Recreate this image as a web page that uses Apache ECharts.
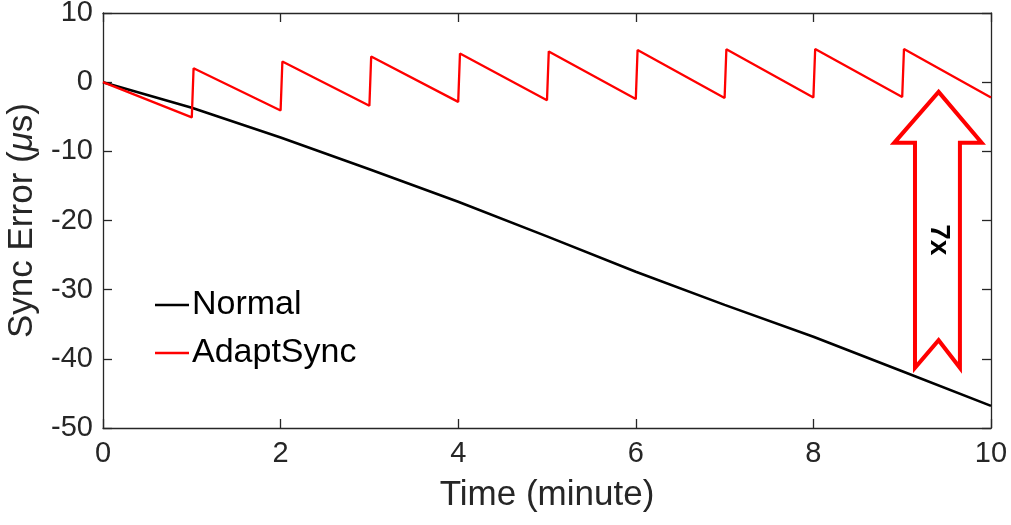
<!DOCTYPE html>
<html>
<head>
<meta charset="utf-8">
<script src="https://cdn.jsdelivr.net/npm/echarts@6/dist/echarts.min.js"></script>
<style>html,body{margin:0;padding:0;background:#fff}#c{width:1011px;height:525px}</style>
</head>
<body>
<div id="c"></div>
<script>
// ---- data ----
const xTicks = [0, 2, 4, 6, 8, 10];
const yTicks = [-50, -40, -30, -20, -10, 0, 10];
const normalT = [0, 1, 2, 3, 4, 5, 6, 7, 8, 9, 10];
const normalV = [0, -3.7, -8.0, -12.6, -17.3, -22.3, -27.4, -32.2, -36.8, -41.8, -46.8];
const adaptT = [0, 1, 1.02, 2, 2.02, 3, 3.02, 4, 4.02, 5, 5.02, 6, 6.02, 7, 7.02, 8, 8.02, 9, 9.02, 10];
const adaptV = [0, -5.1, 2.0, -4.1, 3.0, -3.4, 3.7, -2.85, 4.15, -2.6, 4.45, -2.45, 4.65, -2.3, 4.75, -2.2, 4.8, -2.15, 4.8, -2.2];
const seriesNames = ['Normal', 'AdaptSync'];
const annotationText = '7x';
// arrow outline in data coordinates (annotation)
const arrowPts = [[9.41, -1.4], [9.895, -8.77], [9.65, -8.77], [9.65, -41.3], [9.41, -37.3], [9.144, -41.3], [9.144, -8.77], [8.91, -8.77]];
const arrowTextPos = [9.41, -22.8];

const FONT = 'Liberation Sans, Arial, sans-serif';
const AX = '#262626';

const chart = echarts.init(document.getElementById('c'), null, {renderer: 'canvas'});
const lineSt = {show: true, onZero: false, lineStyle: {color: AX, width: 1.3}};
const tickSt = {show: true, inside: true, length: 9, lineStyle: {color: AX, width: 1.3}};
const xCommon = {type: 'value', min: 0, max: 10, interval: 2, axisLine: lineSt, axisTick: tickSt, splitLine: {show: false}};
const yCommon = {type: 'value', min: -50, max: 10, interval: 10, axisLine: lineSt, axisTick: tickSt, splitLine: {show: false}};
chart.setOption({
  animation: false,
  backgroundColor: '#fff',
  grid: {left: 103, right: 20, top: 13, bottom: 97, containLabel: false, outerBoundsMode: 'none'},
  xAxis: [
    Object.assign({}, xCommon, {
      position: 'bottom',
      name: 'Time (minute)', nameLocation: 'middle', nameGap: 50,
      nameTextStyle: {color: AX, fontSize: 35, fontFamily: FONT},
      axisLabel: {color: AX, fontSize: 29, fontFamily: FONT, margin: 11,
        formatter: v => xTicks.includes(v) ? String(v) : ''}
    }),
    Object.assign({}, xCommon, {position: 'top', axisLabel: {show: false}})
  ],
  yAxis: [
    Object.assign({}, yCommon, {
      position: 'left',
      name: 'Sync Error ({it|μ}s)', nameLocation: 'middle', nameGap: 59,
      nameTextStyle: {color: AX, fontSize: 35, fontFamily: FONT,
        rich: {it: {fontStyle: 'italic', fontSize: 35, fontFamily: FONT, color: AX}}},
      axisLabel: {color: AX, fontSize: 29, fontFamily: FONT, margin: 10,
        formatter: v => yTicks.includes(v) ? String(v) : ''}
    }),
    Object.assign({}, yCommon, {position: 'right', axisLabel: {show: false}})
  ],
  legend: {
    orient: 'vertical', left: 150, top: 283,
    itemWidth: 34, itemHeight: 2.5, itemGap: 14, icon: 'rect',
    textStyle: {fontSize: 34, fontFamily: FONT, color: '#000', lineHeight: 34, padding: [0, 0, 0, -2]},
    data: seriesNames
  },
  series: [
    {name: seriesNames[0], type: 'line', showSymbol: false, symbol: 'none',
      color: '#000', lineStyle: {color: '#000', width: 2.6},
      data: normalT.map((t, i) => [t, normalV[i]])},
    {name: seriesNames[1], type: 'line', showSymbol: false, symbol: 'none',
      color: '#ff0000', lineStyle: {color: '#ff0000', width: 2.3},
      data: adaptT.map((t, i) => [t, adaptV[i]])}
  ]
});

const px = p => chart.convertToPixel({xAxisIndex: 0, yAxisIndex: 0}, p);
const pts = arrowPts.map(px);
const tp = px(arrowTextPos);
chart.setOption({
  graphic: [
    {type: 'polygon', z: 100, shape: {points: pts},
      style: {fill: '#fff', stroke: '#ff0000', lineWidth: 4, lineJoin: 'miter'}},
    {type: 'text', z: 101, x: tp[0], y: tp[1], rotation: -Math.PI / 2,
      style: {text: annotationText, fontSize: 28, fontWeight: 'bold', fontFamily: FONT, fill: '#000',
        align: 'center', verticalAlign: 'middle'}}
  ]
});
</script>
</body>
</html>
